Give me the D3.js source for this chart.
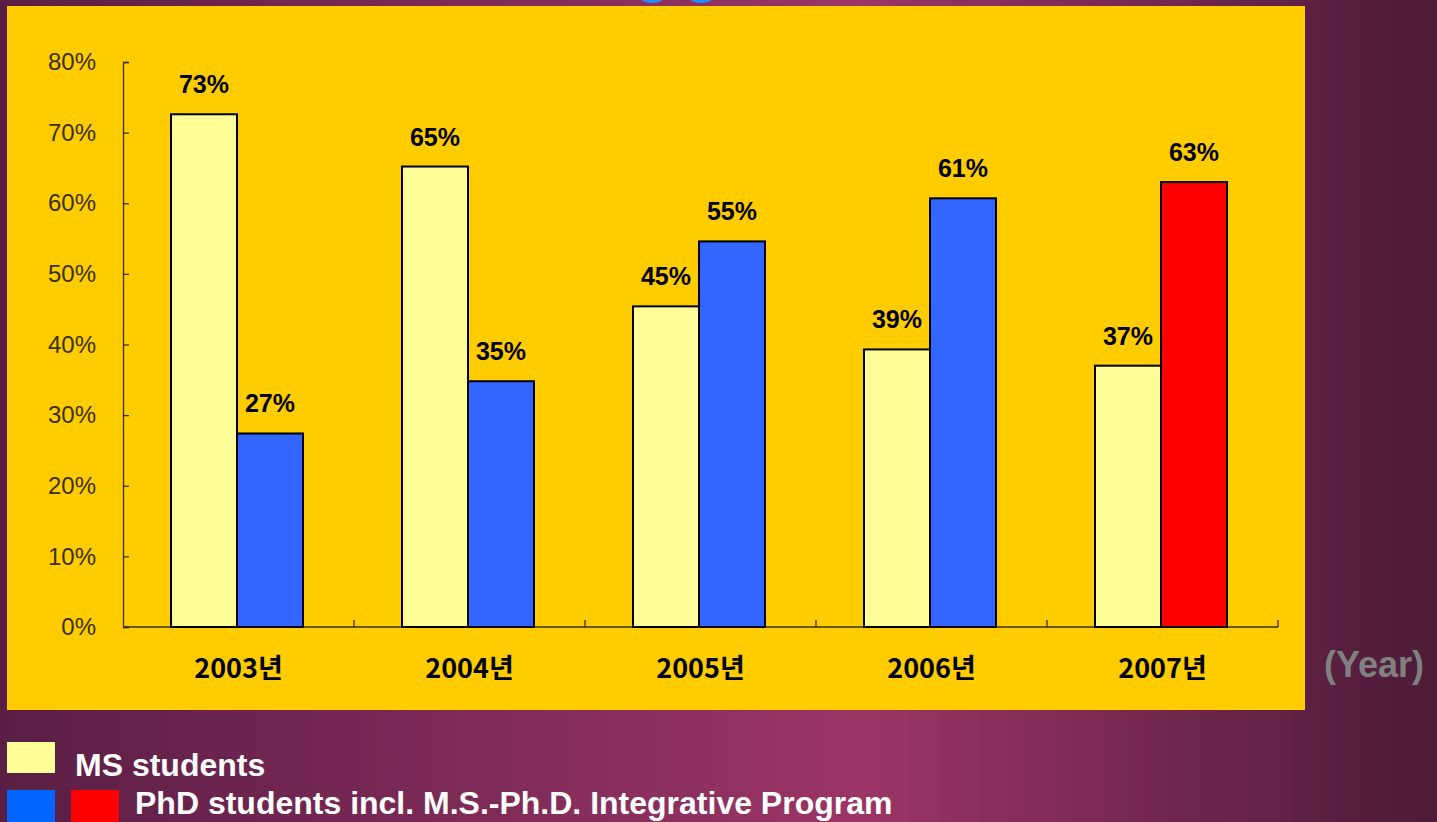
<!DOCTYPE html>
<html>
<head>
<meta charset="utf-8">
<script src="https://cdn.jsdelivr.net/npm/d3@7"></script>
<style>
  html, body { margin: 0; padding: 0; overflow: hidden; }
  svg { display: block; }
</style>
</head>
<body>
<div id="chart"></div>
<script>
// data
var years = ["2003년", "2004년", "2005년", "2006년", "2007년"]
var msValues = [72.6, 65.2, 45.4, 39.3, 37.0]
var phdValues = [27.4, 34.8, 54.6, 60.7, 63.0]
var yTicks = [0, 10, 20, 30, 40, 50, 60, 70, 80]
var legendLabels = ["MS students", "PhD students incl. M.S.-Ph.D. Integrative Program"]

var W = 1437, H = 822

var svg = d3.select("#chart").append("svg")
  .attr("width", W)
  .attr("height", H)

// purple background gradient
var defs = svg.append("defs")
var grad = defs.append("linearGradient")
  .attr("id", "bg")
  .attr("x1", "0").attr("x2", "1").attr("y1", "0").attr("y2", "0")
grad.append("stop").attr("offset", "0%").attr("stop-color", "#5a1e45")
grad.append("stop").attr("offset", "60%").attr("stop-color", "#9b3566")
grad.append("stop").attr("offset", "100%").attr("stop-color", "#4c1b38")

svg.append("rect")
  .attr("width", W).attr("height", H)
  .attr("fill", "url(#bg)")

// bits of the cut-off title at the very top
svg.append("ellipse").attr("cx", 652).attr("cy", -3).attr("rx", 12).attr("ry", 6).attr("fill", "#1e8fff")
svg.append("ellipse").attr("cx", 701).attr("cy", -3).attr("rx", 12).attr("ry", 6).attr("fill", "#1e8fff")

// yellow chart panel
svg.append("rect")
  .attr("x", 7).attr("y", 6)
  .attr("width", 1298).attr("height", 704)
  .attr("fill", "#ffcc00")

// scales
var x0 = d3.scaleBand()
  .domain(years)
  .range([123, 1278])
  .paddingInner(0)
  .paddingOuter(0)

var x1 = d3.scaleBand()
  .domain(["ms", "phd"])
  .range([48, 180])
  .padding(0)

var y = d3.scaleLinear()
  .domain([0, 80])
  .range([627, 62])

// y axis
var yAxis = svg.append("g")
  .attr("transform", "translate(123,0)")
  .call(d3.axisLeft(y)
    .tickValues(yTicks)
    .tickFormat(d => d + "%")
    .tickSizeInner(-6)
    .tickSizeOuter(-6)
    .tickPadding(27))
yAxis.selectAll("path, line").attr("stroke", "#3a3000").attr("stroke-width", 1.3)
yAxis.selectAll("text")
  .attr("fill", "#3a3000")
  .style("font-family", "'Liberation Sans', Arial, sans-serif")
  .style("font-size", "24px")

// x axis labels
var xAxis = svg.append("g")
  .attr("transform", "translate(0,627)")
  .call(d3.axisBottom(x0).tickSize(0).tickPadding(32))
xAxis.select(".domain").remove()
xAxis.selectAll("text")
  .attr("fill", "#000")
  .style("font-family", "'Noto Sans CJK KR', sans-serif")
  .style("font-weight", "bold")
  .style("font-size", "27px")

// baseline and category boundary ticks (pointing up)
svg.append("line")
  .attr("x1", x0.range()[0]).attr("x2", x0.range()[1])
  .attr("y1", y(0)).attr("y2", y(0))
  .attr("stroke", "#3a3000").attr("stroke-width", 1.5)
svg.selectAll(".cattick")
  .data(years)
  .enter().append("line")
  .attr("class", "cattick")
  .attr("x1", d => x0(d) + x0.bandwidth())
  .attr("x2", d => x0(d) + x0.bandwidth())
  .attr("y1", y(0)).attr("y2", y(0) - 7)
  .attr("stroke", "#3a3000").attr("stroke-width", 1.3)

// bars
var rows = years.map(function(yr, i) {
  return [
    { year: yr, key: "ms", value: msValues[i], fill: "#ffff99" },
    { year: yr, key: "phd", value: phdValues[i], fill: i == years.length - 1 ? "#ff0000" : "#3366ff" }
  ]
})
var flat = rows.flat()

svg.selectAll(".bar")
  .data(flat)
  .enter().append("rect")
  .attr("class", "bar")
  .attr("x", d => x0(d.year) + x1(d.key))
  .attr("y", d => y(d.value))
  .attr("width", x1.bandwidth())
  .attr("height", d => y(0) - y(d.value))
  .attr("fill", d => d.fill)
  .attr("stroke", "#000")
  .attr("stroke-width", 2)

// value labels
svg.selectAll(".vlabel")
  .data(flat)
  .enter().append("text")
  .attr("class", "vlabel")
  .attr("x", d => x0(d.year) + x1(d.key) + x1.bandwidth() / 2)
  .attr("y", d => y(d.value) - 21)
  .attr("text-anchor", "middle")
  .style("font-family", "'Liberation Sans', Arial, sans-serif")
  .style("font-weight", "bold")
  .style("font-size", "25px")
  .attr("fill", "#000")
  .text(d => Math.round(d.value) + "%")

// (Year)
svg.append("text")
  .attr("x", 1374).attr("y", 677)
  .attr("text-anchor", "middle")
  .style("font-family", "'Liberation Sans', Arial, sans-serif")
  .style("font-weight", "bold")
  .style("font-size", "36px")
  .attr("fill", "#808080")
  .text("(Year)")

// legend
var legendFont = "'Liberation Sans', Arial, sans-serif"
svg.append("rect").attr("x", 7).attr("y", 742).attr("width", 48).attr("height", 31).attr("fill", "#ffff99")
svg.append("rect").attr("x", 7).attr("y", 790).attr("width", 48).attr("height", 32).attr("fill", "#0066ff")
svg.append("rect").attr("x", 71).attr("y", 790).attr("width", 48).attr("height", 32).attr("fill", "#ff0000")

svg.append("text")
  .attr("x", 75).attr("y", 776)
  .style("font-family", legendFont)
  .style("font-weight", "bold")
  .style("font-size", "32px")
  .attr("fill", "#fff")
  .text(legendLabels[0])
svg.append("text")
  .attr("x", 135).attr("y", 814)
  .style("font-family", legendFont)
  .style("font-weight", "bold")
  .style("font-size", "32px")
  .attr("fill", "#fff")
  .text(legendLabels[1])
</script>
</body>
</html>
